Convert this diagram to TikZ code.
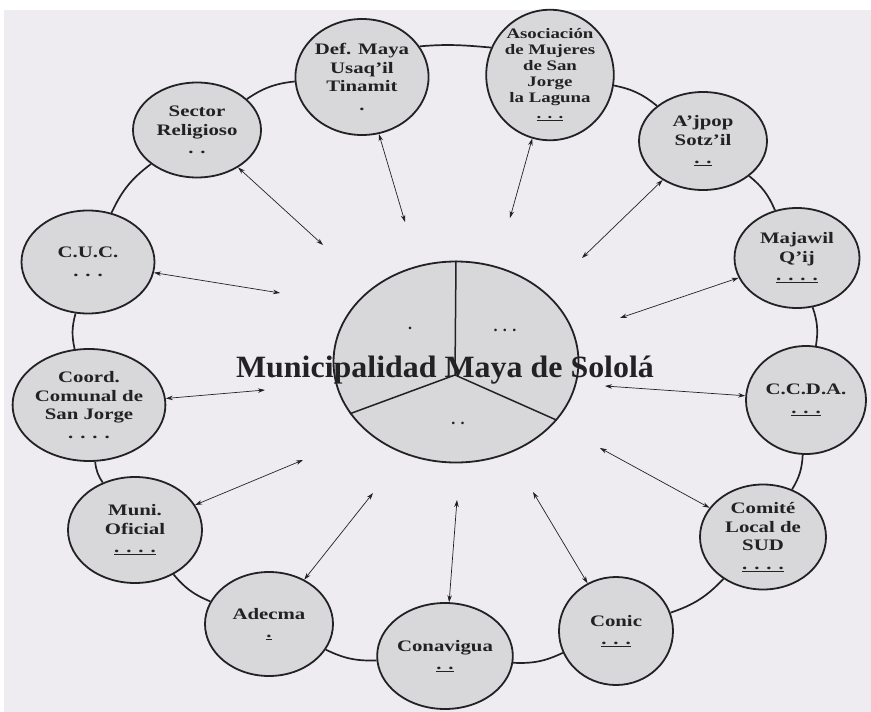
\documentclass[tikz,border=0pt]{standalone}
\usepackage{fontspec}
\setmainfont{Liberation Serif}
\newfontfamily\lblfont[FakeStretch=1.3]{Liberation Serif}
\newfontfamily\titlefont[FakeStretch=1.03]{Liberation Serif}
\usetikzlibrary{shapes.geometric,arrows.meta}
\definecolor{paper}{RGB}{238,236,240}
\definecolor{stip}{RGB}{216,216,219}
\definecolor{ink}{RGB}{34,34,36}
\begin{document}
\begin{tikzpicture}[x=1pt,y=-1pt,
  org/.style={ellipse, draw=ink, line width=1.8pt, fill=stip, inner sep=0pt,
    align=center, text=ink, font=\lblfont\bfseries\fontsize{16}{18.5}\selectfont},
  ringseg/.style={draw=ink, line width=1.7pt, bend left=14},
  link/.style={draw=ink, line width=0.7pt,
    {Stealth[length=7pt,width=4.5pt]}-{Stealth[length=7pt,width=4.5pt]}},
  dotmark/.style={text=ink, inner sep=0pt, font=\bfseries\fontsize{16}{18}\selectfont},
  ]
\useasboundingbox (0,0) rectangle (871,712);
\fill[white] (0,0) rectangle (871,712);
\fill[paper] (4,10) rectangle (871,712);

% outer organisations
\node[org, minimum width=128pt, minimum height=95pt] (sector) at (197,130) {Sector\\Religioso\\. .};
\node[org, minimum width=124pt, minimum height=116pt] (def) at (362,77) {Def. Maya\\Usaq’il\\Tinamit\\.};
\node[org, minimum width=122pt, minimum height=108pt,
  font=\lblfont\bfseries\fontsize{14.5}{16}\selectfont] (aso) at (550,75)
  {Asociación\\de Mujeres\\de San\\Jorge\\la Laguna\\\underline{. . .}};
\node[org, minimum width=128pt, minimum height=98pt] (ajpop) at (703,141) {A’jpop\\Sotz’il\\\underline{. .}};
\node[org, minimum width=125pt, minimum height=100pt] (majawil) at (797,258) {Majawil\\Q’ij\\\underline{. . . .}};
\node[org, minimum width=120pt, minimum height=108pt] (ccda) at (806,400) {C.C.D.A.\\\underline{. . .}};
\node[org, minimum width=126pt, minimum height=105pt] (comite) at (763,537) {Comité\\Local de\\SUD\\\underline{. . . .}};
\node[org, minimum width=114pt, minimum height=108pt] (conic) at (616,631) {Conic\\\underline{. . .}};
\node[org, minimum width=131pt, minimum height=106pt] (conav) at (445,656) {Conavigua\\\underline{. .}};
\node[org, minimum width=128pt, minimum height=104pt] (adecma) at (269,624) {Adecma\\\underline{.}};
\node[org, minimum width=134pt, minimum height=106pt] (muni) at (135,530) {Muni.\\Oficial\\\underline{. . . .}};
\node[org, minimum width=132pt, minimum height=112pt] (coord) at (89,405) {Coord.\\Comunal de\\San Jorge\\. . . .};
\node[org, minimum width=133pt, minimum height=103pt] (cuc) at (88,262) {C.U.C.\\. . .};

% ring
\draw[ringseg] (sector) to (def);
\draw[draw=ink, line width=1.7pt] (def.28) to[out=5,in=175] (aso.155);
\draw[ringseg] (aso) to (ajpop);
\draw[ringseg] (ajpop) to (majawil);
\draw[ringseg] (majawil) to (ccda);
\draw[ringseg] (ccda) to (comite);
\draw[ringseg] (comite) to (conic);
\draw[ringseg] (conic) to (conav);
\draw[ringseg] (conav) to (adecma);
\draw[ringseg] (adecma) to (muni);
\draw[ringseg] (muni) to (coord);
\draw[ringseg] (coord) to (cuc);
\draw[ringseg] (cuc) to (sector);

% central body
\node[ellipse, draw=ink, line width=1.8pt, fill=stip, minimum width=245pt,
  minimum height=201pt, inner sep=0pt] (cen) at (456,362) {};
\coordinate (junc) at (455,375);
\draw[ink, line width=1.5pt] (junc) -- (cen.north) (junc) -- (cen.206) (junc) -- (cen.330);
\node[dotmark] (dA) at (410,328) {.};
\node[dotmark] (dB) at (505,330) {. . .};
\node[dotmark] (dC) at (458,423) {. .};
\node[anchor=base, text=ink, inner sep=0pt,
  font=\titlefont\bfseries\fontsize{31}{36}\selectfont] (title) at (445,377)
  {Municipalidad Maya de Sololá};

% inner ends of the links
\coordinate (sector-in) at (323,245);
\coordinate (def-in) at (405,222);
\coordinate (aso-in) at (510,218);
\coordinate (ajpop-in) at (582,258);
\coordinate (majawil-in) at (620,318);
\coordinate (cuc-in) at (280,293);
\coordinate (coord-in) at (265,390);
\coordinate (ccda-in) at (605,386);
\coordinate (comite-in) at (600,448);
\coordinate (muni-in) at (303,460);
\coordinate (adecma-in) at (373,493);
\coordinate (conav-in) at (457,500);
\coordinate (conic-in) at (533,492);

\draw[link] (sector) -- (sector-in);
\draw[link] (def) -- (def-in);
\draw[link] (aso) -- (aso-in);
\draw[link] (ajpop) -- (ajpop-in);
\draw[link] (majawil) -- (majawil-in);
\draw[link] (cuc) -- (cuc-in);
\draw[link] (coord) -- (coord-in);
\draw[link] (ccda) -- (ccda-in);
\draw[link] (comite) -- (comite-in);
\draw[link] (muni) -- (muni-in);
\draw[link] (adecma) -- (adecma-in);
\draw[link] (conav) -- (conav-in);
\draw[link] (conic) -- (conic-in);
\end{tikzpicture}
\end{document}
